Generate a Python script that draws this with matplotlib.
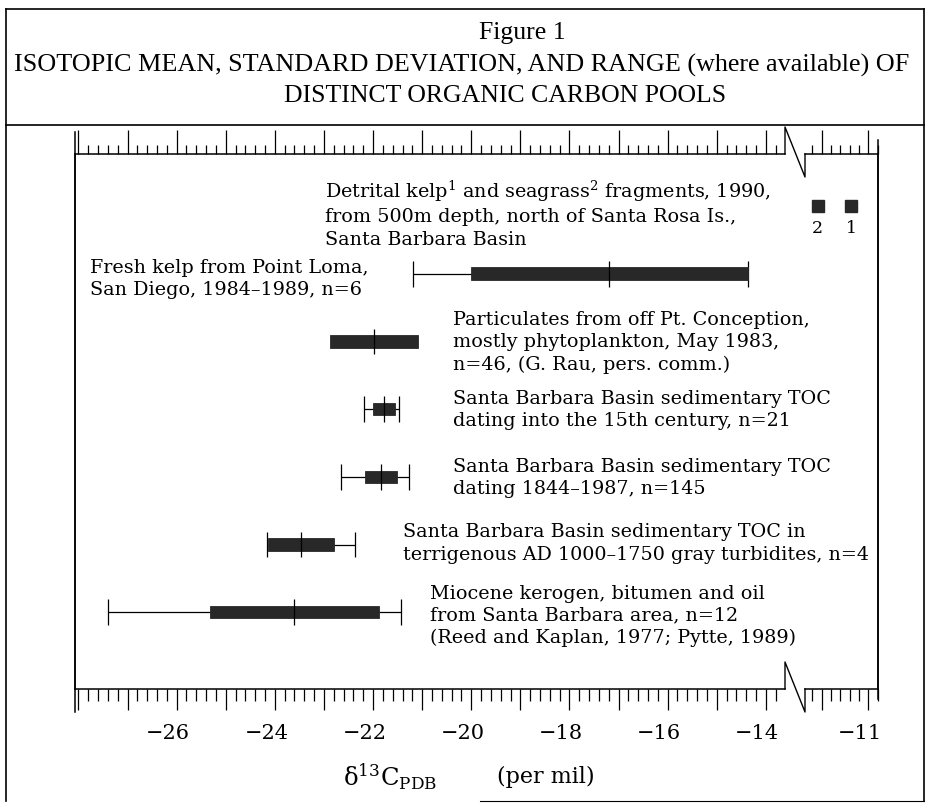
import matplotlib
matplotlib.use('Agg')
import matplotlib.pyplot as plt
from matplotlib.lines import Line2D
from matplotlib.ticker import MultipleLocator, NullFormatter
import matplotlib.transforms as mtransforms

plt.rcParams['font.family'] = ['DejaVu Serif']
plt.rcParams['mathtext.fontset'] = 'dejavuserif'

# ---------------- data ----------------
row_labels = [
    "Detrital kelp$^{1}$ and seagrass$^{2}$ fragments, 1990,\nfrom 500m depth, north of Santa Rosa Is.,\nSanta Barbara Basin",
    "Fresh kelp from Point Loma,\nSan Diego, 1984\u20131989, n=6",
    "Particulates from off Pt. Conception,\nmostly phytoplankton, May 1983,\nn=46, (G. Rau, pers. comm.)",
    "Santa Barbara Basin sedimentary TOC\ndating into the 15th century, n=21",
    "Santa Barbara Basin sedimentary TOC\ndating 1844\u20131987, n=145",
    "Santa Barbara Basin sedimentary TOC in\nterrigenous AD 1000\u20131750 gray turbidites, n=4",
    "Miocene kerogen, bitumen and oil\nfrom Santa Barbara area, n=12\n(Reed and Kaplan, 1977; Pytte, 1989)",
]
# rows 1..6 (row 0 = detrital fragments, single values)
means     = [-17.19, -21.98, -21.77, -21.84, -23.47, -23.60]
sds       = [2.82, 0.90, 0.225, 0.32, 0.675, 1.725]
range_min = [-21.18, None, -22.19, -22.66, -24.15, -27.40]
range_max = [-14.36, None, -21.47, -21.27, -22.36, -21.44]
detrital_values = [-12.09, -11.37]   # seagrass (2), kelp (1)
detrital_tags = ['2', '1']
left_ticklabels = [-26, -24, -22, -20, -18, -16, -14]
right_ticklabels = [-11]

# text anchor (left x in data units, y offset in rows)
label_x = [-22.98, -27.76, -20.37, -20.37, -20.37, -21.39, -20.84]
label_dy = [0.10, 0.06, 0.0, 0.0, 0.0, -0.03, 0.04]

# ---------------- figure ----------------
W, H = 927, 804
fig = plt.figure(figsize=(W / 100, H / 100), dpi=100)

def fx(px):
    return px / W

def fy(py):
    return 1 - py / H

ax_top_px, ax_bot_px = 155, 690
xL0, xL1, xR0, xR1 = 75, 785, 805, 877.7
axL = fig.add_axes([fx(xL0), fy(ax_bot_px), fx(xL1 - xL0), (ax_bot_px - ax_top_px) / H])
axR = fig.add_axes([fx(xR0), fy(ax_bot_px), fx(xR1 - xR0), (ax_bot_px - ax_top_px) / H])

axL.set_xlim(-28.07, -13.61)
axR.set_xlim(-12.36, -10.80)
for ax in (axL, axR):
    ax.set_ylim(7.134, -0.768)
    ax.set_yticks([])
    ax.patch.set_alpha(0)
axL.spines['right'].set_visible(False)
axR.spines['left'].set_visible(False)
for ax in (axL, axR):
    for s in ax.spines.values():
        s.set_linewidth(1.1)

px2pt = 0.72
for ax in (axL, axR):
    ax.xaxis.set_major_locator(MultipleLocator(1))
    ax.xaxis.set_minor_locator(MultipleLocator(0.2))
    ax.xaxis.set_major_formatter(NullFormatter())
    ax.tick_params(axis='x', which='major', direction='out', length=21 * px2pt, width=0.9, bottom=True, top=False)
    ax.tick_params(axis='x', which='minor', direction='out', length=12 * px2pt, width=0.9, bottom=True, top=False)
    t = ax.twiny()
    t.set_xlim(ax.get_xlim())
    t.xaxis.set_major_locator(MultipleLocator(1))
    t.xaxis.set_minor_locator(MultipleLocator(0.2))
    t.xaxis.set_major_formatter(NullFormatter())
    t.tick_params(axis='x', which='major', direction='out', length=24 * px2pt, width=0.9)
    t.tick_params(axis='x', which='minor', direction='out', length=9 * px2pt, width=0.9)
    for s in t.spines.values():
        s.set_visible(False)

# tick labels (slightly left of ticks, as in the original)
off = mtransforms.ScaledTranslation(-8.5 / 100, 0, fig.dpi_scale_trans)
lab_y = (ax_bot_px - 734) / (ax_bot_px - ax_top_px)
for ax, vals in ((axL, left_ticklabels), (axR, right_ticklabels)):
    tr = mtransforms.blended_transform_factory(ax.transData, ax.transAxes) + off
    for v in vals:
        ax.text(v, lab_y, '\u2212' + str(abs(v)), transform=tr, ha='center', va='center',
                fontsize=15, clip_on=False)

bar_h = 0.185
cap_h = 0.19
dark = '#282828'
for i, (m, s, lo, hi) in enumerate(zip(means, sds, range_min, range_max)):
    y = i + 1
    if lo is not None:
        axL.hlines(y, lo, hi, color='black', lw=0.9, zorder=2)
        axL.vlines([lo, hi], y - cap_h, y + cap_h, color='black', lw=0.9, zorder=2)
    axL.barh(y, 2 * s, left=m - s, height=bar_h, color=dark, edgecolor=dark, lw=0.6, zorder=3)
    axL.vlines(m, y - cap_h, y + cap_h, color='black', lw=0.9, zorder=4)

# detrital fragments (single values)
axR.plot(detrital_values, [0, 0], linestyle='none', marker='s', markersize=12.5 * px2pt,
         color=dark, clip_on=False, zorder=3)
for v, t in zip(detrital_values, detrital_tags):
    axR.annotate(t, (v, 0), xytext=(0, -15.5), textcoords='offset points', ha='center', va='center',
                 fontsize=12.5, annotation_clip=False)

# row labels
for i, txt in enumerate(row_labels):
    axL.text(label_x[i], i + label_dy[i], txt, ha='left', va='center', fontsize=13.8,
             linespacing=1.3, clip_on=False, zorder=5)

# axis label
fig.text(fx(343), fy(777), '\u03b4$^{13}$C$_{\\mathrm{PDB}}$', ha='left', va='center', fontsize=17.5)
fig.text(fx(497), fy(777), '(per mil)', ha='left', va='center', fontsize=16)

# axis break marks and frame extensions (decoration)
def pline(xs, ys, lw=1.0):
    fig.add_artist(Line2D([fx(x) for x in xs], [fy(y) for y in ys], color='black', lw=lw))

pline([xL1, xL1, xR0, xR0], [ax_top_px, 128, 178, ax_top_px])
pline([xL1, xL1, xR0, xR0], [ax_bot_px, 663, 713, ax_bot_px])
pline([xL0, xL0], [133, 713], lw=1.1)
pline([xR1, xR1], [141, 700], lw=1.1)

# outer frame and title
pline([6, 924], [10, 10], lw=1.2)
pline([6, 6], [10, 802], lw=1.2)
pline([924, 924], [10, 802], lw=1.2)
pline([6, 924], [126, 126], lw=1.2)
pline([480, 924], [802, 802], lw=0.8)

title_font = ['Liberation Serif', 'DejaVu Serif']
fig.text(fx(522), fy(33), 'Figure 1', ha='center', va='center', fontsize=18.5, family=title_font)
fig.text(fx(462), fy(65), 'ISOTOPIC MEAN, STANDARD DEVIATION, AND RANGE (where available) OF',
         ha='center', va='center', fontsize=18.8, family=title_font)
fig.text(fx(505), fy(96), 'DISTINCT ORGANIC CARBON POOLS', ha='center', va='center', fontsize=18.5,
         family=title_font)

fig.savefig('out.png', dpi=100)
